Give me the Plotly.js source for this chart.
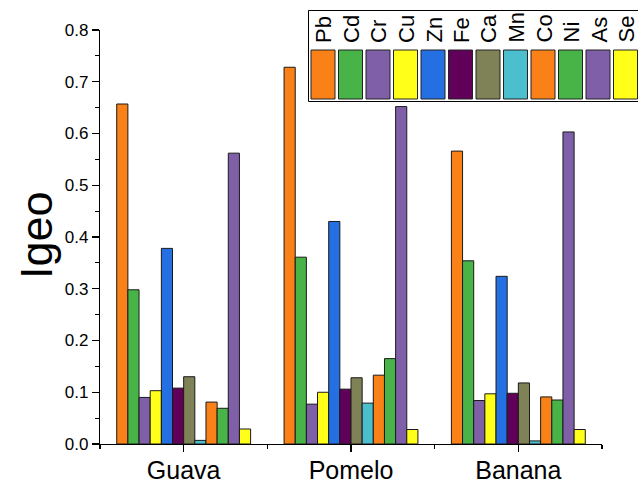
<!DOCTYPE html>
<html>
<head>
<meta charset="utf-8">
<script src="https://cdn.plot.ly/plotly-3.0.1.min.js"></script>
<style>body{margin:0;padding:0;background:#fff}#chart{width:638px;height:484px}</style>
</head>
<body>
<div id="chart"></div>
<script>
var categories = ['Guava', 'Pomelo', 'Banana'];
var metals = ['Pb', 'Cd', 'Cr', 'Cu', 'Zn', 'Fe', 'Ca', 'Mn', 'Co', 'Ni', 'As', 'Se'];
var colors = ['#FA8117', '#48B448', '#7F60A8', '#FFFF1A', '#246FE2', '#600058', '#7E8256', '#4BBFCD', '#FA8117', '#48B448', '#7F60A8', '#FFFF1A'];
var Pb = [0.657, 0.728, 0.566];
var Cd = [0.298, 0.361, 0.354];
var Cr = [0.090, 0.077, 0.084];
var Cu = [0.103, 0.100, 0.097];
var Zn = [0.378, 0.430, 0.324];
var Fe = [0.108, 0.106, 0.098];
var Ca = [0.130, 0.128, 0.118];
var Mn = [0.007, 0.079, 0.006];
var Co = [0.081, 0.133, 0.091];
var Ni = [0.069, 0.165, 0.085];
var As = [0.562, 0.652, 0.603];
var Se = [0.029, 0.028, 0.028];
var series = [Pb, Cd, Cr, Cu, Zn, Fe, Ca, Mn, Co, Ni, As, Se];
var xpos = [0, 1, 2];
var yTitle = 'Igeo';

var W = 638, H = 484, mL = 100, mR = 36, mT = 30, mB = 40;
var pw = W - mL - mR, ph = H - mT - mB;
function px2x(p) { return (p - mL) / pw; }
function py2y(p) { return (H - mB - p) / ph; }

var traces = metals.map(function (m, i) {
  return {
    type: 'bar', name: m, x: xpos, y: series[i],
    marker: { color: colors[i], line: { color: '#1a1a1a', width: 1 } },
    showlegend: false, hoverinfo: 'y+name'
  };
});

var shapes = [{
  type: 'rect', xref: 'paper', yref: 'paper',
  x0: px2x(308.5), x1: px2x(650), y0: py2y(101.5), y1: py2y(10.5),
  line: { color: '#000', width: 1 }, fillcolor: 'rgba(0,0,0,0)'
}];
var annotations = [];
metals.forEach(function (m, i) {
  var x0 = 311 + 27.5 * i;
  shapes.push({
    type: 'rect', xref: 'paper', yref: 'paper',
    x0: px2x(x0), x1: px2x(x0 + 24), y0: py2y(99), y1: py2y(50),
    line: { color: '#222', width: 1 }, fillcolor: colors[i]
  });
  annotations.push({
    xref: 'paper', yref: 'paper', x: px2x(x0 + 12.5), y: py2y(45),
    xanchor: 'center', yanchor: 'bottom', text: m, textangle: -90,
    showarrow: false, font: { family: 'Liberation Sans, Arial, sans-serif', size: 22, color: '#000' }
  });
});
annotations.push({
  xref: 'paper', yref: 'paper', x: px2x(36), y: py2y(235),
  xanchor: 'center', yanchor: 'middle', text: yTitle, textangle: -90,
  showarrow: false, font: { family: 'Liberation Sans, Arial, sans-serif', size: 45, color: '#000' }
});

var layout = {
  width: W, height: H,
  margin: { l: mL, r: mR, t: mT, b: mB, pad: 0 },
  paper_bgcolor: '#fff', plot_bgcolor: '#fff',
  barmode: 'group', bargap: 0.2, bargroupgap: 0,
  font: { family: 'Liberation Sans, Arial, sans-serif', color: '#000' },
  xaxis: {
    range: [-0.5, 2.5], tickmode: 'array', tickvals: xpos, ticktext: categories,
    ticks: 'outside', ticklen: 7, tickwidth: 1.2, tickcolor: '#000',
    showline: true, linecolor: '#000', linewidth: 1.2, showgrid: false, zeroline: false,
    tickfont: { size: 25 }, ticklabelstandoff: -3,
    minor: { tickmode: 'linear', tick0: -0.5, dtick: 1, ticks: 'outside', ticklen: 4, tickwidth: 1.2, tickcolor: '#000', showgrid: false }
  },
  yaxis: {
    range: [0, 0.8], dtick: 0.1, tickformat: '.1f',
    ticks: 'outside', ticklen: 7, tickwidth: 1.2, tickcolor: '#000',
    showline: true, linecolor: '#000', linewidth: 1.2, showgrid: false, zeroline: false,
    tickfont: { size: 17 },
    minor: { dtick: 0.05, ticks: 'outside', ticklen: 4, tickwidth: 1.2, tickcolor: '#000', showgrid: false }
  },
  shapes: shapes,
  annotations: annotations
};

Plotly.newPlot('chart', traces, layout, { displayModeBar: false, staticPlot: true });
</script>
</body>
</html>
